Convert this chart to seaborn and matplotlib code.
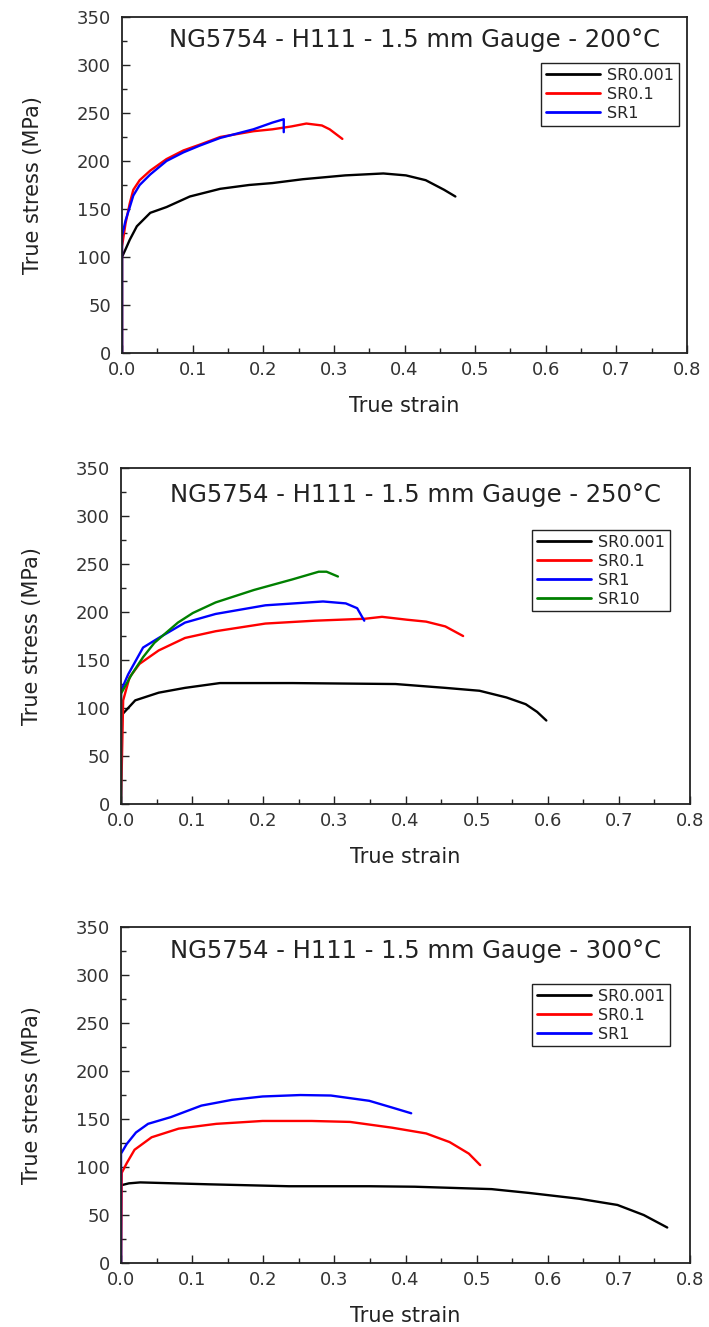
import matplotlib
matplotlib.use("Agg")
import matplotlib.pyplot as plt
import numpy as np
import pandas as pd
import seaborn as sns
from matplotlib.ticker import MultipleLocator, FormatStrFormatter

# ---- data (true strain, true stress in MPa) ----
t200_sr0001_strain = [0, 0, 0.005, 0.011, 0.021, 0.040, 0.063, 0.096, 0.139, 0.18, 0.213, 0.256, 0.316, 0.37, 0.402, 0.43, 0.456, 0.472]
t200_sr0001_stress = [0, 100, 108, 118, 132, 146, 152, 163, 171, 175, 177, 181, 185, 187, 185, 180, 170, 163]
t200_sr01_strain = [0, 0, 0.005, 0.011, 0.016, 0.025, 0.040, 0.063, 0.087, 0.11, 0.139, 0.186, 0.213, 0.24, 0.261, 0.283, 0.294, 0.312]
t200_sr01_stress = [0, 111, 135, 156, 170, 180, 190, 202, 211, 217, 225, 231, 233, 236, 239, 237, 233, 223]
t200_sr1_strain = [0, 0, 0.005, 0.011, 0.016, 0.025, 0.040, 0.063, 0.087, 0.11, 0.139, 0.186, 0.213, 0.229, 0.229]
t200_sr1_stress = [0, 122, 138, 152, 164, 175, 186, 200, 209, 216, 224, 233, 240, 243.5, 230]

t250_sr0001_strain = [0, 0, 0.020, 0.053, 0.090, 0.139, 0.241, 0.386, 0.456, 0.504, 0.542, 0.569, 0.585, 0.598]
t250_sr0001_stress = [0, 92, 108, 116, 121, 126, 126, 125, 121, 118, 111, 104, 96, 87]
t250_sr01_strain = [0, 0.003, 0.012, 0.026, 0.053, 0.090, 0.133, 0.203, 0.273, 0.343, 0.367, 0.402, 0.429, 0.456, 0.481]
t250_sr01_stress = [0, 108, 132, 146, 160, 173, 180, 188, 191, 193, 195, 192, 190, 185, 175]
t250_sr1_strain = [0, 0, 0.010, 0.031, 0.053, 0.090, 0.133, 0.203, 0.284, 0.316, 0.332, 0.342]
t250_sr1_stress = [0, 118, 135, 163, 173, 189, 198, 207, 211, 209, 204, 191]
t250_sr10_strain = [0, 0, 0.015, 0.031, 0.047, 0.080, 0.101, 0.133, 0.187, 0.241, 0.278, 0.289, 0.305]
t250_sr10_stress = [0, 115, 135, 153, 168, 189, 199, 210, 223, 234, 242, 242, 237]

t300_sr0001_strain = [0, 0, 0.011, 0.027, 0.124, 0.236, 0.349, 0.413, 0.521, 0.574, 0.644, 0.698, 0.735, 0.768]
t300_sr0001_stress = [0, 81, 83, 84, 82, 80, 80, 79.5, 77, 73, 67, 60.5, 50, 37]
t300_sr01_strain = [0, 0.001, 0.008, 0.019, 0.043, 0.081, 0.134, 0.199, 0.268, 0.322, 0.381, 0.429, 0.462, 0.489, 0.505]
t300_sr01_stress = [0, 94, 104, 118, 131, 140, 145, 148, 148, 147, 141, 135, 126, 114, 102]
t300_sr1_strain = [0, 0, 0.008, 0.021, 0.038, 0.070, 0.113, 0.156, 0.199, 0.252, 0.295, 0.349, 0.381, 0.408]
t300_sr1_stress = [0, 114, 124, 136, 145, 152, 164, 170, 173.5, 175, 174.5, 169, 162, 156]

temperatures = ["200", "250", "300"]
series = {
    "200": [("SR0.001", t200_sr0001_strain, t200_sr0001_stress),
            ("SR0.1", t200_sr01_strain, t200_sr01_stress),
            ("SR1", t200_sr1_strain, t200_sr1_stress)],
    "250": [("SR0.001", t250_sr0001_strain, t250_sr0001_stress),
            ("SR0.1", t250_sr01_strain, t250_sr01_stress),
            ("SR1", t250_sr1_strain, t250_sr1_stress),
            ("SR10", t250_sr10_strain, t250_sr10_stress)],
    "300": [("SR0.001", t300_sr0001_strain, t300_sr0001_stress),
            ("SR0.1", t300_sr01_strain, t300_sr01_stress),
            ("SR1", t300_sr1_strain, t300_sr1_stress)],
}
palette = {"SR0.001": "#000000", "SR0.1": "#ff0000", "SR1": "#0000ff", "SR10": "#008000"}

sns.set_style("white")
plt.rcParams["font.family"] = ["DejaVu Sans"]
plt.rcParams["axes.linewidth"] = 1.3
plt.rcParams["axes.edgecolor"] = "#222222"

fig = plt.figure(figsize=(7.09, 13.27), dpi=100)
# axes boxes [left, bottom, width, height] in figure fraction
boxes = [[0.1721, 0.734, 0.7969, 0.2532],
         [0.1707, 0.3941, 0.8025, 0.2532],
         [0.1707, 0.0482, 0.8025, 0.2532]]
legend_anchor = [(0.986, 0.863), (0.965, 0.816), (0.965, 0.831)]
title_y = [0.931, 0.919, 0.928]

for i, temp in enumerate(temperatures):
    ax = fig.add_axes(boxes[i])
    rows = []
    for name, x, y in series[temp]:
        for a, b in zip(x, y):
            rows.append({"strain": a, "stress": b, "rate": name})
    df = pd.DataFrame(rows)
    sns.lineplot(data=df, x="strain", y="stress", hue="rate", palette=palette,
                 estimator=None, sort=False, linewidth=1.7, ax=ax)

    ax.set_xlim(0, 0.8)
    ax.set_ylim(0, 350)
    ax.xaxis.set_major_locator(MultipleLocator(0.1))
    ax.xaxis.set_minor_locator(MultipleLocator(0.05))
    ax.yaxis.set_major_locator(MultipleLocator(50))
    ax.yaxis.set_minor_locator(MultipleLocator(25))
    ax.xaxis.set_major_formatter(FormatStrFormatter("%.1f"))
    ax.tick_params(which="both", direction="in", bottom=True, left=True,
                   top=False, right=False, colors="#222222", labelcolor="#333333")
    ax.tick_params(which="major", length=6, width=1.0, labelsize=13)
    ax.tick_params(axis="y", which="major", pad=8)
    ax.tick_params(axis="x", which="major", pad=6)
    ax.tick_params(which="minor", length=3.5, width=1.0)

    ax.set_xlabel("True strain", fontsize=15, color="#222222", labelpad=12)
    ax.set_ylabel("True stress (MPa)", fontsize=15, color="#222222", labelpad=24)
    ax.text(0.518, title_y[i], "NG5754 - H111 - 1.5 mm Gauge - " + temp + "°C",
            transform=ax.transAxes, ha="center", va="center", fontsize=17.5,
            color="#222222")

    leg = ax.legend(loc="upper right", bbox_to_anchor=legend_anchor[i],
                    borderaxespad=0, fontsize=11.5, frameon=True, fancybox=False,
                    edgecolor="#222222", framealpha=1, handlelength=3.4,
                    handletextpad=0.45, borderpad=0.3, labelspacing=0.25)
    leg.get_frame().set_linewidth(1.0)
    for line in leg.get_lines():
        line.set_linewidth(2.0)

fig.savefig("out.png", dpi=100)
